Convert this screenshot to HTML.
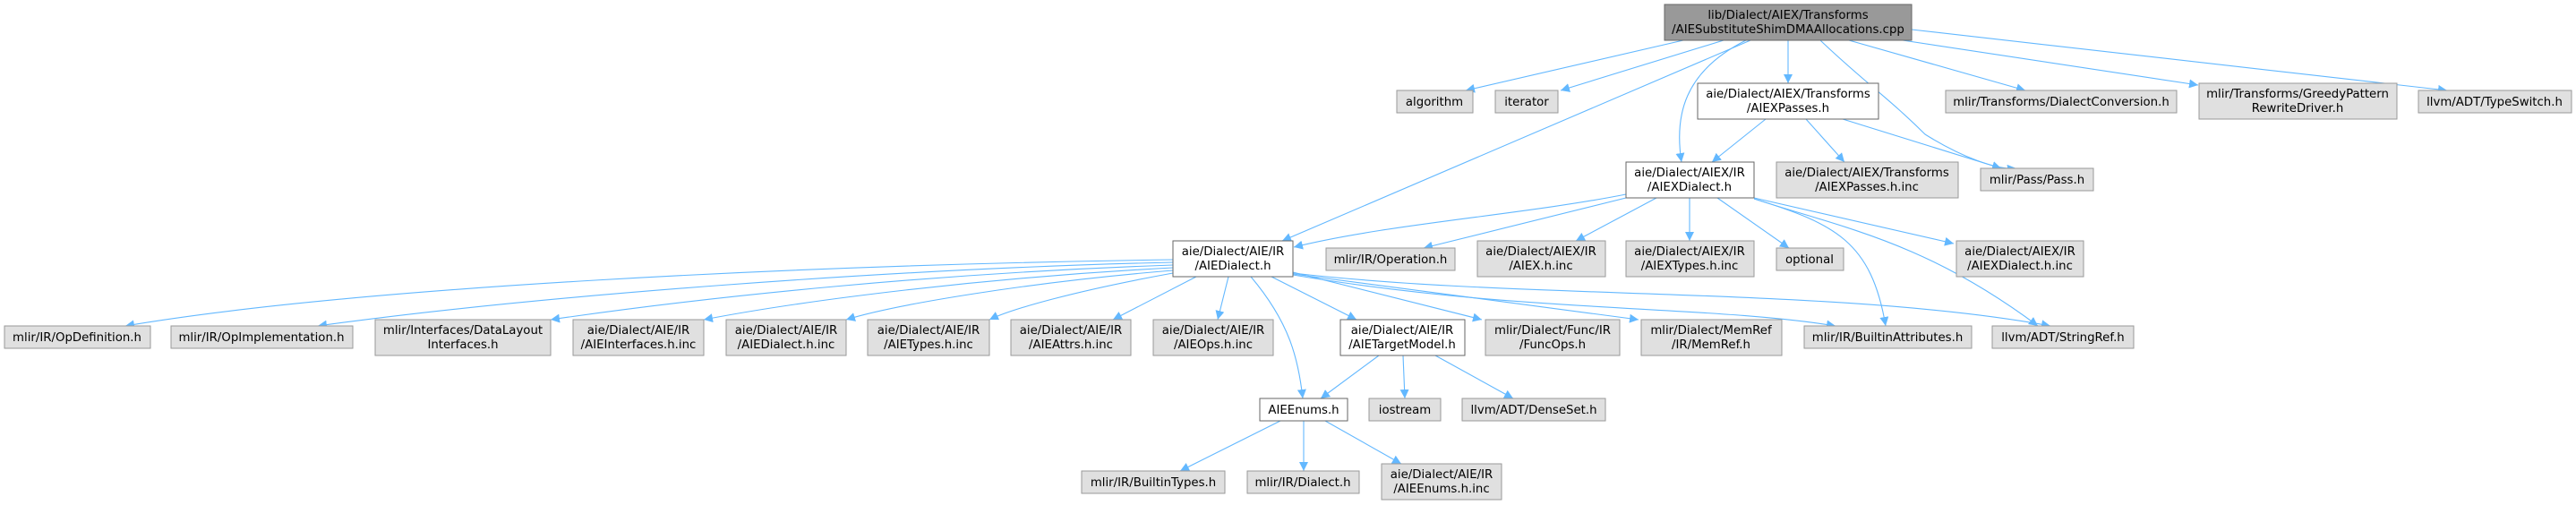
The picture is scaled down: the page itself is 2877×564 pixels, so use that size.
<!DOCTYPE html>
<html><head><meta charset="utf-8"><style>
html,body{margin:0;padding:0;background:#fff;}
svg{display:block;}
text{font-family:"DejaVu Sans","Liberation Sans",sans-serif;font-size:13.3px;fill:#000;}
.g{fill:#e0e0e0;stroke:#999;stroke-width:1}
.w{fill:#fff;stroke:#666;stroke-width:1}
.r{fill:#999;stroke:#666;stroke-width:1}
.e{fill:none;stroke:#63b8ff;stroke-width:1.1}
</style></head><body>
<svg width="2877" height="564" viewBox="0 0 2877 564" xmlns="http://www.w3.org/2000/svg">
<defs><marker id="a" viewBox="0 0 10 10" refX="10" refY="5" markerWidth="10" markerHeight="10" markerUnits="userSpaceOnUse" orient="auto"><path d="M0,0 L10,5 L0,10 z" fill="#63b8ff"/></marker></defs>
<g class="e" marker-end="url(#a)">
<!-- root edges -->
<path d="M1880,45 L1637,101"/>
<path d="M1925,45 L1743,101"/>
<path d="M1955,45 L1432,269"/>
<path d="M1950,45 C1880,80 1870,130 1878,181"/>
<path d="M1997,45 L1997,93"/>
<path d="M2033,45 C2080,90 2110,110 2150,150 C2190,175 2230,190 2252,188"/>
<path d="M2065,45 L2262,101"/>
<path d="M2125,45 L2455,95"/>
<path d="M2135,33 L2733,101"/>
<!-- AIEXPasses -->
<path d="M1972,133 L1912,181"/>
<path d="M2017,133 L2060,181"/>
<path d="M2058,133 L2235,188"/>
<!-- AIEXDialect -->
<path d="M1816,217 C1700,240 1550,250 1445,276"/>
<path d="M1816,221 L1590,277"/>
<path d="M1850,221 L1760,269"/>
<path d="M1887,221 L1887,269"/>
<path d="M1918,221 L1998,277"/>
<path d="M1959,221 L2182,272"/>
<path d="M1959,222 C2050,250 2090,270 2106,364"/>
<path d="M1959,222 C2060,255 2150,270 2276,364"/>
<!-- AIEDialect -->
<path d="M1310,290 C900,296 400,320 140,364"/>
<path d="M1310,293 C1000,300 600,330 355,364"/>
<path d="M1310,296 C1050,305 800,330 615,357"/>
<path d="M1310,299 C1100,310 900,335 786,357"/>
<path d="M1310,302 C1150,315 1000,340 945,357"/>
<path d="M1310,305 C1200,325 1130,345 1105,357"/>
<path d="M1336,309 L1243,357"/>
<path d="M1372,309 L1360,357"/>
<path d="M1397,309 C1440,360 1450,400 1455,445"/>
<path d="M1420,309 L1515,357"/>
<path d="M1444,304 L1655,357"/>
<path d="M1444,306 L1830,357"/>
<path d="M1444,307 C1700,350 1900,340 2050,364"/>
<path d="M1444,305 C1700,335 2050,320 2290,364"/>
<!-- AIETargetModel -->
<path d="M1540,397 L1475,445"/>
<path d="M1567,397 L1569,445"/>
<path d="M1603,397 L1690,445"/>
<!-- AIEEnums -->
<path d="M1430,470 L1318,526"/>
<path d="M1456,470 L1456,526"/>
<path d="M1480,470 L1565,518"/>
</g>
<!-- nodes -->
<rect class="r" x="1859" y="5" width="276" height="40"/>
<text x="1997" y="21" text-anchor="middle">lib/Dialect/AIEX/Transforms</text>
<text x="1997" y="37" text-anchor="middle">/AIESubstituteShimDMAAllocations.cpp</text>

<rect class="g" x="1560" y="101" width="85" height="25"/><text x="1602" y="118" text-anchor="middle">algorithm</text>
<rect class="g" x="1670" y="101" width="70" height="25"/><text x="1705" y="118" text-anchor="middle">iterator</text>
<rect class="w" x="1896" y="93" width="202" height="40"/><text x="1997" y="109" text-anchor="middle">aie/Dialect/AIEX/Transforms</text><text x="1997" y="125" text-anchor="middle">/AIEXPasses.h</text>
<rect class="g" x="2173" y="101" width="258" height="25"/><text x="2302" y="118" text-anchor="middle">mlir/Transforms/DialectConversion.h</text>
<rect class="g" x="2456" y="93" width="221" height="40"/><text x="2566" y="109" text-anchor="middle">mlir/Transforms/GreedyPattern</text><text x="2566" y="125" text-anchor="middle">RewriteDriver.h</text>
<rect class="g" x="2701" y="101" width="171" height="25"/><text x="2786" y="118" text-anchor="middle">llvm/ADT/TypeSwitch.h</text>

<rect class="w" x="1816" y="181" width="143" height="40"/><text x="1887" y="197" text-anchor="middle">aie/Dialect/AIEX/IR</text><text x="1887" y="213" text-anchor="middle">/AIEXDialect.h</text>
<rect class="g" x="1984" y="181" width="203" height="40"/><text x="2085" y="197" text-anchor="middle">aie/Dialect/AIEX/Transforms</text><text x="2085" y="213" text-anchor="middle">/AIEXPasses.h.inc</text>
<rect class="g" x="2212" y="188" width="126" height="25"/><text x="2275" y="205" text-anchor="middle">mlir/Pass/Pass.h</text>

<rect class="w" x="1310" y="269" width="134" height="40"/><text x="1377" y="285" text-anchor="middle">aie/Dialect/AIE/IR</text><text x="1377" y="301" text-anchor="middle">/AIEDialect.h</text>
<rect class="g" x="1481" y="277" width="144" height="25"/><text x="1553" y="294" text-anchor="middle">mlir/IR/Operation.h</text>
<rect class="g" x="1650" y="269" width="143" height="40"/><text x="1721" y="285" text-anchor="middle">aie/Dialect/AIEX/IR</text><text x="1721" y="301" text-anchor="middle">/AIEX.h.inc</text>
<rect class="g" x="1816" y="269" width="143" height="40"/><text x="1887" y="285" text-anchor="middle">aie/Dialect/AIEX/IR</text><text x="1887" y="301" text-anchor="middle">/AIEXTypes.h.inc</text>
<rect class="g" x="1984" y="277" width="75" height="25"/><text x="2021" y="294" text-anchor="middle">optional</text>
<rect class="g" x="2185" y="269" width="142" height="40"/><text x="2256" y="285" text-anchor="middle">aie/Dialect/AIEX/IR</text><text x="2256" y="301" text-anchor="middle">/AIEXDialect.h.inc</text>

<rect class="g" x="5" y="364" width="163" height="25"/><text x="86" y="381" text-anchor="middle">mlir/IR/OpDefinition.h</text>
<rect class="g" x="191" y="364" width="203" height="25"/><text x="292" y="381" text-anchor="middle">mlir/IR/OpImplementation.h</text>
<rect class="g" x="419" y="357" width="196" height="40"/><text x="517" y="373" text-anchor="middle">mlir/Interfaces/DataLayout</text><text x="517" y="389" text-anchor="middle">Interfaces.h</text>
<rect class="g" x="640" y="357" width="146" height="40"/><text x="713" y="373" text-anchor="middle">aie/Dialect/AIE/IR</text><text x="713" y="389" text-anchor="middle">/AIEInterfaces.h.inc</text>
<rect class="g" x="811" y="357" width="134" height="40"/><text x="878" y="373" text-anchor="middle">aie/Dialect/AIE/IR</text><text x="878" y="389" text-anchor="middle">/AIEDialect.h.inc</text>
<rect class="g" x="969" y="357" width="136" height="40"/><text x="1037" y="373" text-anchor="middle">aie/Dialect/AIE/IR</text><text x="1037" y="389" text-anchor="middle">/AIETypes.h.inc</text>
<rect class="g" x="1129" y="357" width="134" height="40"/><text x="1196" y="373" text-anchor="middle">aie/Dialect/AIE/IR</text><text x="1196" y="389" text-anchor="middle">/AIEAttrs.h.inc</text>
<rect class="g" x="1288" y="357" width="134" height="40"/><text x="1355" y="373" text-anchor="middle">aie/Dialect/AIE/IR</text><text x="1355" y="389" text-anchor="middle">/AIEOps.h.inc</text>
<rect class="w" x="1497" y="357" width="139" height="40"/><text x="1566" y="373" text-anchor="middle">aie/Dialect/AIE/IR</text><text x="1566" y="389" text-anchor="middle">/AIETargetModel.h</text>
<rect class="g" x="1659" y="357" width="150" height="40"/><text x="1734" y="373" text-anchor="middle">mlir/Dialect/Func/IR</text><text x="1734" y="389" text-anchor="middle">/FuncOps.h</text>
<rect class="g" x="1833" y="357" width="157" height="40"/><text x="1911" y="373" text-anchor="middle">mlir/Dialect/MemRef</text><text x="1911" y="389" text-anchor="middle">/IR/MemRef.h</text>
<rect class="g" x="2015" y="364" width="187" height="25"/><text x="2108" y="381" text-anchor="middle">mlir/IR/BuiltinAttributes.h</text>
<rect class="g" x="2225" y="364" width="158" height="25"/><text x="2304" y="381" text-anchor="middle">llvm/ADT/StringRef.h</text>

<rect class="w" x="1407" y="445" width="98" height="25"/><text x="1456" y="462" text-anchor="middle">AIEEnums.h</text>
<rect class="g" x="1529" y="445" width="80" height="25"/><text x="1569" y="462" text-anchor="middle">iostream</text>
<rect class="g" x="1633" y="445" width="160" height="25"/><text x="1713" y="462" text-anchor="middle">llvm/ADT/DenseSet.h</text>

<rect class="g" x="1208" y="526" width="160" height="25"/><text x="1288" y="543" text-anchor="middle">mlir/IR/BuiltinTypes.h</text>
<rect class="g" x="1393" y="526" width="125" height="25"/><text x="1455" y="543" text-anchor="middle">mlir/IR/Dialect.h</text>
<rect class="g" x="1543" y="518" width="134" height="40"/><text x="1610" y="534" text-anchor="middle">aie/Dialect/AIE/IR</text><text x="1610" y="550" text-anchor="middle">/AIEEnums.h.inc</text>
</svg>
</body></html>
